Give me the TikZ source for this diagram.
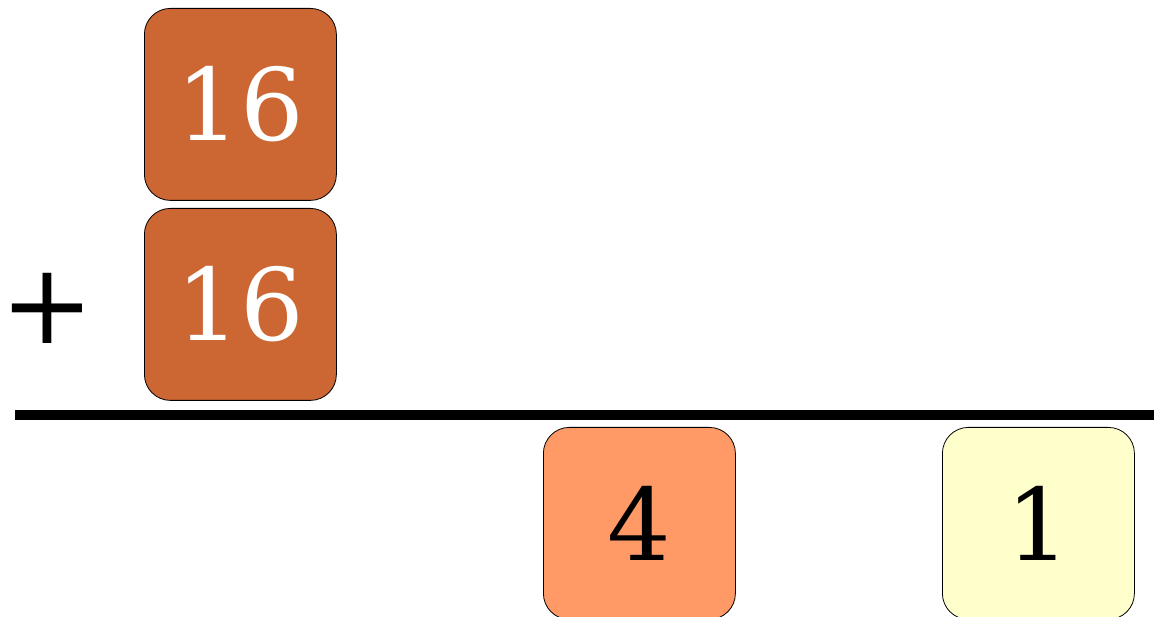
\documentclass[tikz,border=0pt]{standalone}
\usepackage{fontspec}
\setmainfont{DejaVu Serif}
\definecolor{rust}{HTML}{CC6633}
\definecolor{salmon}{HTML}{FF9966}
\definecolor{cream}{HTML}{FFFFCC}
\begin{document}
\begin{tikzpicture}[x=1pt,y=-1pt,
  tile/.style={draw=black, line width=0.8pt, rounded corners=26pt, minimum width=192pt, minimum height=192pt, inner sep=0pt, font=\fontsize{100}{110}\selectfont, anchor=north west}]
\useasboundingbox (0,0) rectangle (1154,617);
\clip (0,0) rectangle (1154,617);
\node[tile, fill=rust, text=white] (a) at (144,8) {16};
\node[tile, fill=rust, text=white] (b) at (144,208) {16};
\node[tile, fill=salmon, text=black] (c) at (543,427) {4};
\node[tile, fill=cream, text=black] (d) at (942,427) {1};
\node[font=\fontsize{112}{120}\selectfont, inner sep=0pt] (plus) at (47.5,308) {+};
\coordinate (l1) at (15,415);
\coordinate (l2) at (1154,415);
\draw[line width=10pt] (l1) -- (l2);
\end{tikzpicture}
\end{document}
